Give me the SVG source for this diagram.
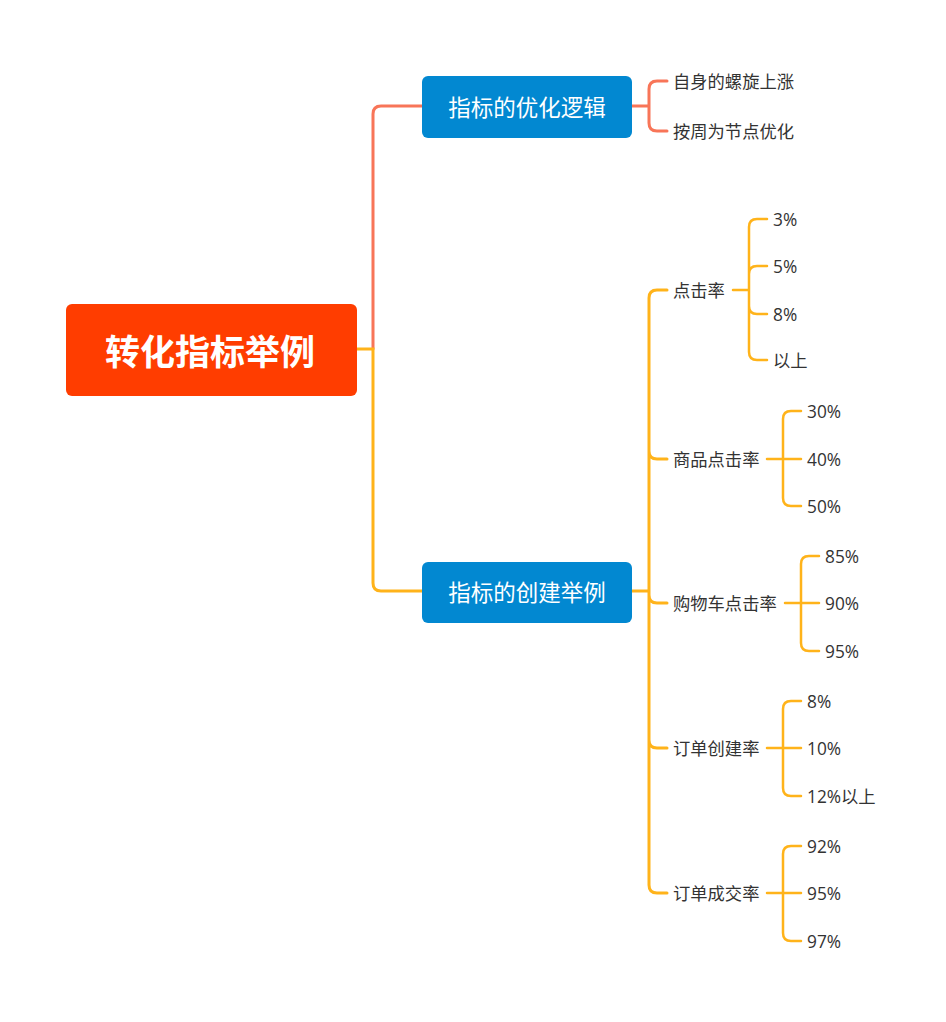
<svg xmlns="http://www.w3.org/2000/svg" width="946" height="1022" viewBox="0 0 946 1022">
<style>
.r{fill:#FF3D00}
.b{fill:#0288D1}
.rt{font-family:"Noto Sans CJK SC",sans-serif;font-weight:bold;font-size:35px;fill:#fff;text-anchor:middle;dominant-baseline:central}
.bt{font-family:"Noto Sans CJK SC",sans-serif;font-size:22.5px;fill:#fff;text-anchor:middle;dominant-baseline:central}
.t{font-family:"Open Sans","Noto Sans CJK SC",sans-serif;font-size:17.3px;fill:#333;dominant-baseline:central}
.cr{fill:none;stroke:#F87558;stroke-width:3;stroke-linecap:round}
.cy{fill:none;stroke:#FFB31A;stroke-width:3;stroke-linecap:round}
.cy2{fill:none;stroke:#FFB31A;stroke-width:2.5;stroke-linecap:round}
</style>
<g id="connectors">
<path class="cr" d="M373,349 V114 Q373,106 381,106 H422"/>
<path class="cy" d="M357,349 H373 V583 Q373,591 381,591 H422"/>
<path class="cr" d="M632,106 H649 M649,106 V89 Q649,81 657,81 H667 M649,106 V123 Q649,131 657,131 H667"/>
<path class="cy" d="M632,591 H649 M649,591 V298 Q649,290 657,290 H667 M649,591 V451 Q649,459 657,459 H667 M649,591 V595 Q649,603 657,603 H667 M649,591 V740 Q649,748 657,748 H667 M649,591 V885 Q649,893 657,893 H667"/>
<path class="cy2" d="M733,290 H749 M749,290 V227 Q749,219 757,219 H767 M749,290 V274 Q749,266 757,266 H767 M749,290 V306 Q749,314 757,314 H767 M749,290 V352 Q749,360 757,360 H767"/>
<path class="cy2" d="M767,459 H783 M783,459 V419 Q783,411 791,411 H801 M783,459 H801 M783,459 V498 Q783,506 791,506 H801"/>
<path class="cy2" d="M785,603 H801 M801,603 V564 Q801,556 809,556 H819 M801,603 H819 M801,603 V643 Q801,651 809,651 H819"/>
<path class="cy2" d="M767,748 H783 M783,748 V709 Q783,701 791,701 H801 M783,748 H801 M783,748 V788 Q783,796 791,796 H801"/>
<path class="cy2" d="M767,893 H783 M783,893 V854 Q783,846 791,846 H801 M783,893 H801 M783,893 V933 Q783,941 791,941 H801"/>
</g>
<g id="root"><rect class="r" x="66" y="304" width="291" height="92" rx="6"/><text class="rt" x="210" y="349">转化指标举例</text></g>
<g id="n1"><rect class="b" x="422" y="76" width="210" height="62" rx="6"/><text class="bt" x="527" y="106">指标的优化逻辑</text></g>
<g id="n2"><rect class="b" x="422" y="562" width="210" height="61" rx="6"/><text class="bt" x="527" y="591">指标的创建举例</text></g>
<g id="l1"><text class="t" x="673" y="81">自身的螺旋上涨</text></g>
<g id="l2"><text class="t" x="673" y="131">按周为节点优化</text></g>
<g id="c1"><text class="t" x="673" y="290">点击率</text></g>
<g id="c1a"><text class="t" x="773" y="219">3%</text></g>
<g id="c1b"><text class="t" x="773" y="266">5%</text></g>
<g id="c1c"><text class="t" x="773" y="314">8%</text></g>
<g id="c1d"><text class="t" x="773" y="360">以上</text></g>
<g id="c2"><text class="t" x="673" y="459">商品点击率</text></g>
<g id="c2a"><text class="t" x="807" y="411">30%</text></g>
<g id="c2b"><text class="t" x="807" y="459">40%</text></g>
<g id="c2c"><text class="t" x="807" y="506">50%</text></g>
<g id="c3"><text class="t" x="673" y="603">购物车点击率</text></g>
<g id="c3a"><text class="t" x="825" y="556">85%</text></g>
<g id="c3b"><text class="t" x="825" y="603">90%</text></g>
<g id="c3c"><text class="t" x="825" y="651">95%</text></g>
<g id="c4"><text class="t" x="673" y="748">订单创建率</text></g>
<g id="c4a"><text class="t" x="807" y="701">8%</text></g>
<g id="c4b"><text class="t" x="807" y="748">10%</text></g>
<g id="c4c"><text class="t" x="807" y="796">12%以上</text></g>
<g id="c5"><text class="t" x="673" y="893">订单成交率</text></g>
<g id="c5a"><text class="t" x="807" y="846">92%</text></g>
<g id="c5b"><text class="t" x="807" y="893">95%</text></g>
<g id="c5c"><text class="t" x="807" y="941">97%</text></g>
</svg>
